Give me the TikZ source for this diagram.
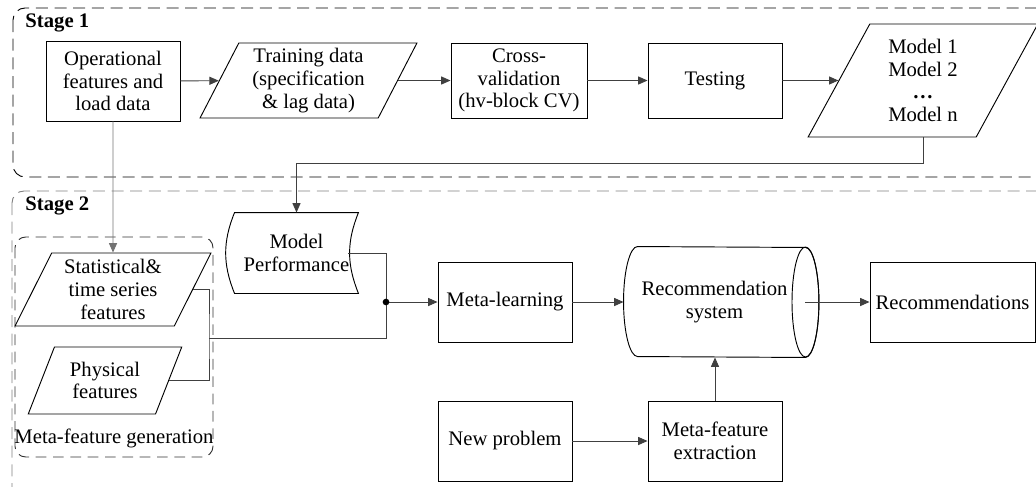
\documentclass[tikz,border=0pt]{standalone}
\usepackage{fontspec}
\setmainfont{Liberation Serif}
\usetikzlibrary{shapes.geometric,arrows.meta}

\begin{document}
\begin{tikzpicture}[x=0.75pt,y=-0.75pt,line width=0.7pt,
   >={Triangle[length=7pt,width=6pt]},
   every node/.style={font=\fontsize{15.5}{17}\selectfont,align=center,inner sep=0pt},
   process/.style={rectangle,draw,minimum width=100.5pt,minimum height=60pt},
   data/.style={trapezium,trapezium left angle=64,trapezium right angle=116,
                trapezium stretches=true,draw},
   stagebox/.style={dash pattern=on 9pt off 5pt,rounded corners=9pt},
   link/.style={draw=black!75}]
   \useasboundingbox (0,0) rectangle (1036,486);
   \clip (0,0) rectangle (1036,486);

   % frames
   \draw[stagebox] (13,8) rectangle (1070,177);
   \draw[stagebox,draw=black!50] (12,191) rectangle (1070,500);
   \draw[stagebox,draw=black!80,dash pattern=on 8pt off 5pt,rounded corners=8pt] (15,237) rectangle (213,457);
   \node[anchor=base west,font=\fontsize{15.5}{17}\selectfont\bfseries] (s1) at (25,27) {Stage 1};
   \node[anchor=base west,font=\fontsize{15.5}{17}\selectfont\bfseries] (s2) at (25,210) {Stage 2};
   \node (gen) at (114,438) {Meta-feature generation};

   % stage 1
   \node[process] (op) at (113,81) {Operational\\features and\\load data};
   \node[data,minimum width=162.75pt,minimum height=56.25pt] (train) at (308.5,80.5) {Training data\\(specification\\\& lag data)};
   \node[process,minimum width=102pt,minimum height=56.25pt] (cv) at (519,80.5) {Cross-\\validation\\(hv-block CV)};
   \node[process,minimum height=56.25pt] (test) at (715,80.5) {Testing};
   \node[data,minimum width=172.5pt,minimum height=84.75pt] (models) at (923,80.5) {Model 1\\Model 2\\{\bfseries\dots}\\Model n};

   % stage 2
   \node[minimum width=92.25pt,minimum height=60pt] (perf) at (296.5,253) {Model\\Performance};
   \draw (perf.north west) to[bend right=22] (perf.south west) -- (perf.south east)
         to[bend left=22] (perf.north east) -- cycle;
   \node[data,minimum width=147pt,minimum height=54.75pt] (stat) at (113,289.5) {Statistical\&\\time series\\features};
   \node[data,minimum width=115.5pt,minimum height=50.25pt] (phys) at (105,380.5) {Physical\\features};
   \node[process] (meta) at (505,302) {Meta-learning};
   \node[minimum width=135.75pt,minimum height=82.5pt] (recsys) at (714.5,302) {Recommendation\\system};
   \draw ([xshift=10.5pt]recsys.north west) arc[start angle=90,end angle=270,x radius=10.5pt,y radius=41.25pt]
         -- (recsys.south east) arc[start angle=-90,end angle=90,x radius=10.1pt,y radius=41.25pt] -- cycle;
   \draw (recsys.east) ellipse[x radius=10.1pt,y radius=41.25pt];
   \node[process,minimum width=123.75pt] (recs) at (952.5,302) {Recommendations};
   \node[process] (newp) at (505,441) {New problem};
   \node[process] (mfe) at (715,441) {Meta-feature\\extraction};

   \coordinate (join) at (386,302);
   \coordinate (brk) at (209,338);

   \path[->,every edge/.append style={link}]
   (op) edge (train)
   (train) edge (cv)
   (cv) edge (test)
   (test) edge (models)
   (op) edge[draw=black!55] (stat)
   (join) edge (meta)
   (meta) edge (recsys.west)
   (recsys.east) edge (recs)
   (newp) edge (mfe)
   (mfe) edge (mfe |- recsys.south);

   \draw[link,->] (models.south) -- ++(0,26) -| (perf.north);
   \draw[link] (stat.east) -| (brk) |- (phys.east);
   \draw[link] (brk) -| (join);
   \draw[link] ([xshift=-7.5pt]perf.east) -| (join);
   \fill (join) circle[radius=2.5pt];
\end{tikzpicture}
\end{document}
